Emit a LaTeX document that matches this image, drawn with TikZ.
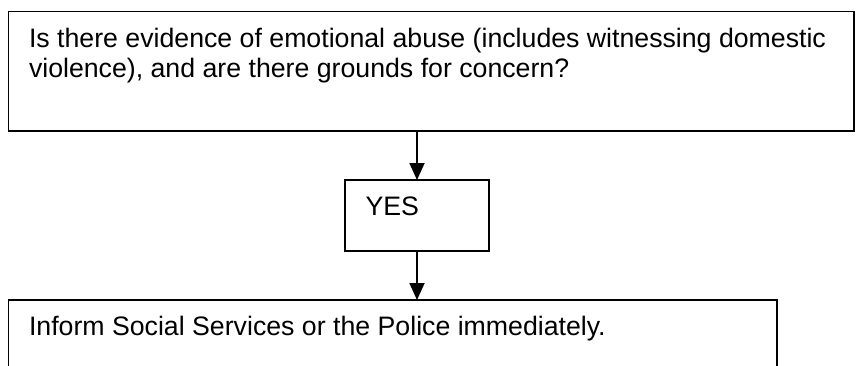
\documentclass[tikz,border=0pt]{standalone}
\usepackage{fontspec}
\setmainfont{Liberation Sans}
\usetikzlibrary{arrows.meta}
\begin{document}
\begin{tikzpicture}[x=1pt,y=-1pt,
  box/.style={draw=black, line width=1.8pt, rectangle, inner sep=0pt, outer sep=0pt, anchor=north west},
  txt/.style={anchor=base west, inner sep=0pt, outer sep=0pt, font=\fontsize{26.7}{29.6}\selectfont},
  arr/.style={draw=black, line width=1.8pt, -{Triangle[length=17pt,width=15pt]}}]
\useasboundingbox (0,0) rectangle (859,365);
\fill[white] (0,0) rectangle (859,365);
\clip (0,0) rectangle (859,365);
% boxes
\node[box, minimum width=845.5pt, minimum height=119.5pt] (q) at (8.5,11.5) {};
\node[box, minimum width=144pt, minimum height=71pt] (yes) at (345,180) {};
\node[box, minimum width=768.5pt, minimum height=100pt] (inf) at (8.5,300) {};
% texts
\node[txt] (q1) at (29,47.7) {Is there evidence of emotional abuse (includes witnessing domestic};
\node[txt] (q2) at (29,77.3) {violence), and are there grounds for concern?};
\node[txt] (yest) at (365.5,215.7) {YES};
\node[txt] (inft) at (29,335) {Inform Social Services or the Police immediately.};
% connectors
\draw[arr] (q.south -| yes.north) -- (yes.north);
\draw[arr] (yes.south) -- (yes.south |- inf.north);
\end{tikzpicture}
\end{document}
